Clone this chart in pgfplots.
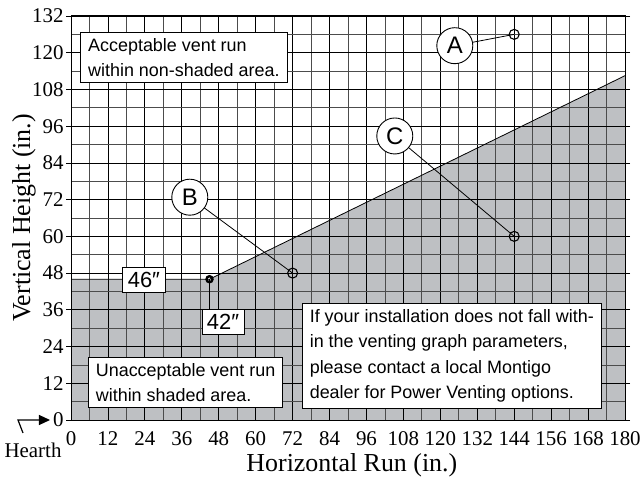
\documentclass[border=0pt]{standalone}
\usepackage{fontspec}
\setmainfont{Liberation Serif}
\newfontfamily\sansf{Liberation Sans}
\usepackage{pgfplots}
\pgfplotsset{compat=1.18}
\usetikzlibrary{arrows.meta}
\definecolor{shade}{RGB}{190,192,195}
\begin{document}
\begin{tikzpicture}
\begin{axis}[
  set layers,
  scale only axis,
  width=554bp, height=404bp,
  xmin=0, xmax=180, ymin=0, ymax=132,
  xtick distance=12, ytick distance=12,
  minor x tick num=1, minor y tick num=1,
  grid=both,
  major grid style={black, line width=0.75pt},
  minor grid style={black!70, line width=0.75pt},
  axis line style={black, line width=1pt},
  xtick style={draw=none},
  minor tick length=0pt,
  ytick style={black, line width=0.8pt},
  y tick label style={font=\fontsize{21}{21}\selectfont, xshift=1bp},
  x tick label style={font=\fontsize{21}{21}\selectfont, yshift=-3bp},
  tick align=outside,
  major tick length=5bp,
  /pgf/number format/assume math mode=true,
  xlabel={Horizontal Run (in.)},
  ylabel={Vertical Height (in.)},
  label style={font=\fontsize{26}{26}\selectfont},
  xlabel style={at={(axis description cs:0.507,-0.111)}, anchor=center},
  ylabel style={at={(axis description cs:-0.085,0.5)}, anchor=center},
  clip=false,
]
\addplot[fill=shade, draw=none, on layer=axis background] coordinates {(0,0) (0,46) (45,46) (180,112.5) (180,0)} -- cycle;
\addplot[black, line width=0.8pt] coordinates {(0,46) (45,46) (180,112.5)};
% leader lines
\addplot[black, line width=0.8pt] coordinates {(124.7,122.3) (144,126)};
\addplot[black, line width=0.8pt] coordinates {(38.6,72.8) (72,48)};
\addplot[black, line width=0.8pt] coordinates {(105.2,92.8) (144,60)};
\addplot[black, line width=0.8pt] coordinates {(45,46) (45,32)};
% points
\addplot[only marks, mark=o, mark size=5bp, mark options={fill=white, line width=1.1pt}] coordinates {(144,126) (72,48) (144,60)};
\addplot[only marks, mark=o, mark size=3bp, mark options={fill=white, line width=2.4pt}] coordinates {(45,46)};
% circle labels
\node[circle, draw, fill=white, line width=0.9pt, minimum size=36bp, inner sep=0pt, font=\sansf\fontsize{24}{24}\selectfont] at (axis cs:124.7,122.3) {A};
\node[circle, draw, fill=white, line width=0.9pt, minimum size=36bp, inner sep=0pt, font=\sansf\fontsize{24}{24}\selectfont] at (axis cs:38.6,72.8) {B};
\node[circle, draw, fill=white, line width=0.9pt, minimum size=36bp, inner sep=0pt, font=\sansf\fontsize{24}{24}\selectfont] at (axis cs:105.2,92.8) {C};
% text boxes
\node[draw, fill=white, line width=0.9pt, anchor=north west, align=left, inner xsep=7.5bp, inner ysep=6bp, font=\sansf\fontsize{18}{25}\selectfont] at (axis cs:3,126.8) {Acceptable vent run\\within non-shaded area.};
\node[draw, fill=white, line width=0.9pt, anchor=north west, align=left, inner xsep=7.5bp, inner ysep=6bp, font=\sansf\fontsize{18}{25}\selectfont] at (axis cs:5.5,20.6) {Unacceptable vent run\\within shaded area.};
\node[draw, fill=white, line width=0.9pt, anchor=north west, align=left, inner xsep=7.5bp, inner ysep=6bp, font=\sansf\fontsize{18}{25.5}\selectfont] at (axis cs:75,38.2) {If your installation does not fall with-\\in the venting graph parameters,\\please contact a local Montigo\\dealer for Power Venting options.};
\node[draw, fill=white, line width=0.9pt, inner xsep=5bp, inner ysep=4.5bp, font=\sansf\fontsize{22}{22}\selectfont] at (axis cs:23.7,45.8) {46″};
\node[draw, fill=white, line width=0.9pt, inner xsep=5bp, inner ysep=4.5bp, font=\sansf\fontsize{22}{22}\selectfont] at (axis cs:49.4,32) {42″};
\end{axis}
% Hearth arrow
\draw[line width=1.2pt, -{Triangle[length=11bp, width=10bp]}] ([shift={(-48bp,-13bp)}]current axis.south west) -- ([shift={(-53bp,0bp)}]current axis.south west) -- ([shift={(-21bp,0bp)}]current axis.south west);
\node[font=\fontsize{21}{21}\selectfont] at ([shift={(-38bp,-30bp)}]current axis.south west) {Hearth};
\pgfresetboundingbox
\path ([shift={(-71bp,-58bp)}]current axis.south west) rectangle ([shift={(15bp,16bp)}]current axis.north east);
\end{tikzpicture}
\end{document}
